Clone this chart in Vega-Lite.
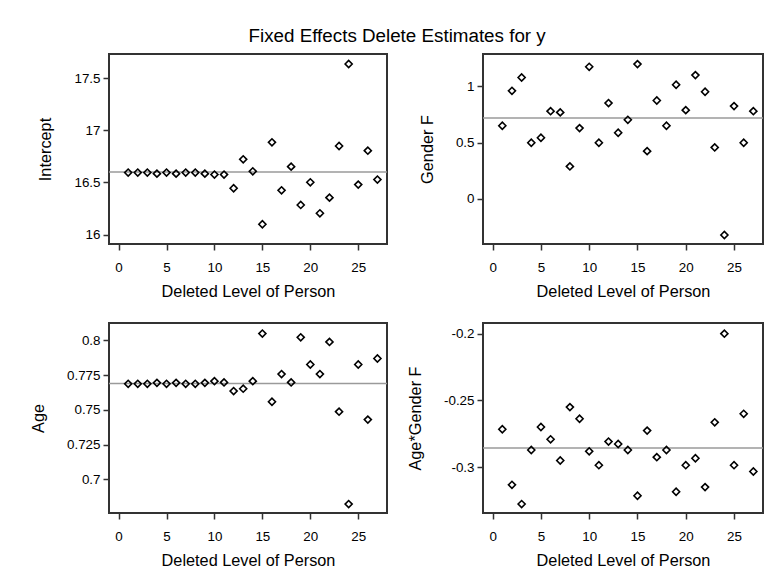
{
  "$schema": "https://vega.github.io/schema/vega-lite/v6.json",
  "background": "white",
  "padding": {"left": 29, "top": 27, "right": 0, "bottom": 0},
  "title": {"text": "Fixed Effects Delete Estimates for y", "font": "Liberation Sans", "fontSize": 18.8, "fontWeight": "normal", "color": "black", "anchor": "middle", "offset": 7},
  "datasets": {
    "est": [
      {"person": 1, "param": "Intercept", "value": 16.594}, {"person": 2, "param": "Intercept", "value": 16.594}, {"person": 3, "param": "Intercept", "value": 16.594},
      {"person": 4, "param": "Intercept", "value": 16.584}, {"person": 5, "param": "Intercept", "value": 16.594}, {"person": 6, "param": "Intercept", "value": 16.584},
      {"person": 7, "param": "Intercept", "value": 16.594}, {"person": 8, "param": "Intercept", "value": 16.594}, {"person": 9, "param": "Intercept", "value": 16.584},
      {"person": 10, "param": "Intercept", "value": 16.575}, {"person": 11, "param": "Intercept", "value": 16.575}, {"person": 12, "param": "Intercept", "value": 16.444},
      {"person": 13, "param": "Intercept", "value": 16.721}, {"person": 14, "param": "Intercept", "value": 16.606}, {"person": 15, "param": "Intercept", "value": 16.099},
      {"person": 16, "param": "Intercept", "value": 16.884}, {"person": 17, "param": "Intercept", "value": 16.424}, {"person": 18, "param": "Intercept", "value": 16.651},
      {"person": 19, "param": "Intercept", "value": 16.284}, {"person": 20, "param": "Intercept", "value": 16.501}, {"person": 21, "param": "Intercept", "value": 16.204},
      {"person": 22, "param": "Intercept", "value": 16.354}, {"person": 23, "param": "Intercept", "value": 16.849}, {"person": 24, "param": "Intercept", "value": 17.634},
      {"person": 25, "param": "Intercept", "value": 16.479}, {"person": 26, "param": "Intercept", "value": 16.804}, {"person": 27, "param": "Intercept", "value": 16.527},

      {"person": 1, "param": "Gender F", "value": 0.650}, {"person": 2, "param": "Gender F", "value": 0.961}, {"person": 3, "param": "Gender F", "value": 1.080},
      {"person": 4, "param": "Gender F", "value": 0.499}, {"person": 5, "param": "Gender F", "value": 0.543}, {"person": 6, "param": "Gender F", "value": 0.780},
      {"person": 7, "param": "Gender F", "value": 0.769}, {"person": 8, "param": "Gender F", "value": 0.288}, {"person": 9, "param": "Gender F", "value": 0.629},
      {"person": 10, "param": "Gender F", "value": 1.175}, {"person": 11, "param": "Gender F", "value": 0.499}, {"person": 12, "param": "Gender F", "value": 0.852},
      {"person": 13, "param": "Gender F", "value": 0.588}, {"person": 14, "param": "Gender F", "value": 0.703}, {"person": 15, "param": "Gender F", "value": 1.199},
      {"person": 16, "param": "Gender F", "value": 0.424}, {"person": 17, "param": "Gender F", "value": 0.875}, {"person": 18, "param": "Gender F", "value": 0.650},
      {"person": 19, "param": "Gender F", "value": 1.015}, {"person": 20, "param": "Gender F", "value": 0.789}, {"person": 21, "param": "Gender F", "value": 1.101},
      {"person": 22, "param": "Gender F", "value": 0.953}, {"person": 23, "param": "Gender F", "value": 0.457}, {"person": 24, "param": "Gender F", "value": -0.323},
      {"person": 25, "param": "Gender F", "value": 0.825}, {"person": 26, "param": "Gender F", "value": 0.499}, {"person": 27, "param": "Gender F", "value": 0.780},

      {"person": 1, "param": "Age", "value": 0.7687}, {"person": 2, "param": "Age", "value": 0.7687}, {"person": 3, "param": "Age", "value": 0.7687},
      {"person": 4, "param": "Age", "value": 0.7694}, {"person": 5, "param": "Age", "value": 0.7687}, {"person": 6, "param": "Age", "value": 0.7694},
      {"person": 7, "param": "Age", "value": 0.7687}, {"person": 8, "param": "Age", "value": 0.7687}, {"person": 9, "param": "Age", "value": 0.7694},
      {"person": 10, "param": "Age", "value": 0.7706}, {"person": 11, "param": "Age", "value": 0.7697}, {"person": 12, "param": "Age", "value": 0.7635},
      {"person": 13, "param": "Age", "value": 0.7652}, {"person": 14, "param": "Age", "value": 0.7706}, {"person": 15, "param": "Age", "value": 0.8048},
      {"person": 16, "param": "Age", "value": 0.7558}, {"person": 17, "param": "Age", "value": 0.7757}, {"person": 18, "param": "Age", "value": 0.7697},
      {"person": 19, "param": "Age", "value": 0.8021}, {"person": 20, "param": "Age", "value": 0.7826}, {"person": 21, "param": "Age", "value": 0.7757},
      {"person": 22, "param": "Age", "value": 0.7988}, {"person": 23, "param": "Age", "value": 0.7487}, {"person": 24, "param": "Age", "value": 0.6823},
      {"person": 25, "param": "Age", "value": 0.7826}, {"person": 26, "param": "Age", "value": 0.7430}, {"person": 27, "param": "Age", "value": 0.7869},

      {"person": 1, "param": "Age*Gender F", "value": -0.2716}, {"person": 2, "param": "Age*Gender F", "value": -0.3132}, {"person": 3, "param": "Age*Gender F", "value": -0.3276},
      {"person": 4, "param": "Age*Gender F", "value": -0.2871}, {"person": 5, "param": "Age*Gender F", "value": -0.2699}, {"person": 6, "param": "Age*Gender F", "value": -0.2791},
      {"person": 7, "param": "Age*Gender F", "value": -0.2950}, {"person": 8, "param": "Age*Gender F", "value": -0.2550}, {"person": 9, "param": "Age*Gender F", "value": -0.2637},
      {"person": 10, "param": "Age*Gender F", "value": -0.2881}, {"person": 11, "param": "Age*Gender F", "value": -0.2985}, {"person": 12, "param": "Age*Gender F", "value": -0.2808},
      {"person": 13, "param": "Age*Gender F", "value": -0.2826}, {"person": 14, "param": "Age*Gender F", "value": -0.2871}, {"person": 15, "param": "Age*Gender F", "value": -0.3214},
      {"person": 16, "param": "Age*Gender F", "value": -0.2726}, {"person": 17, "param": "Age*Gender F", "value": -0.2925}, {"person": 18, "param": "Age*Gender F", "value": -0.2871},
      {"person": 19, "param": "Age*Gender F", "value": -0.3184}, {"person": 20, "param": "Age*Gender F", "value": -0.2985}, {"person": 21, "param": "Age*Gender F", "value": -0.2933},
      {"person": 22, "param": "Age*Gender F", "value": -0.3149}, {"person": 23, "param": "Age*Gender F", "value": -0.2664}, {"person": 24, "param": "Age*Gender F", "value": -0.2000},
      {"person": 25, "param": "Age*Gender F", "value": -0.2985}, {"person": 26, "param": "Age*Gender F", "value": -0.2600}, {"person": 27, "param": "Age*Gender F", "value": -0.3032}
    ],
    "ref": [
      {"param": "Intercept", "value": 16.600},
      {"param": "Gender F", "value": 0.718},
      {"param": "Age", "value": 0.769},
      {"param": "Age*Gender F", "value": -0.2856}
    ]
  },
  "columns": 2,
  "spacing": {"row": 79, "column": 96},
  "bounds": "flush",
  "concat": [
    {
      "width": 278, "height": 190,
      "encoding": {"y": {"field": "value", "type": "quantitative", "title": "Intercept", "scale": {"domain": [15.91, 17.73], "nice": false, "zero": false}, "axis": {"values": [16, 16.5, 17, 17.5], "labelExpr": "'' + datum.value"}}},
      "layer": [
        {"data": {"name": "ref"}, "transform": [{"filter": "datum.param === 'Intercept'"}], "mark": {"type": "rule", "color": "#9a9a9a", "strokeWidth": 1.5}, "encoding": {}},
        {"data": {"name": "est"}, "transform": [{"filter": "datum.param === 'Intercept'"}], "mark": {"type": "point", "shape": "diamond", "filled": false, "size": 50, "color": "black", "strokeWidth": 1.6, "opacity": 1},
         "encoding": {"x": {"field": "person", "type": "quantitative", "title": "Deleted Level of Person", "scale": {"domain": [-1, 28], "nice": false, "zero": false}, "axis": {"values": [0, 5, 10, 15, 20, 25]}}}}
      ]
    },
    {
      "width": 280, "height": 190,
      "encoding": {"y": {"field": "value", "type": "quantitative", "title": "Gender F", "scale": {"domain": [-0.403, 1.289], "nice": false, "zero": false}, "axis": {"values": [0, 0.5, 1], "labelExpr": "'' + datum.value"}}},
      "layer": [
        {"data": {"name": "ref"}, "transform": [{"filter": "datum.param === 'Gender F'"}], "mark": {"type": "rule", "color": "#9a9a9a", "strokeWidth": 1.5}, "encoding": {}},
        {"data": {"name": "est"}, "transform": [{"filter": "datum.param === 'Gender F'"}], "mark": {"type": "point", "shape": "diamond", "filled": false, "size": 50, "color": "black", "strokeWidth": 1.6, "opacity": 1},
         "encoding": {"x": {"field": "person", "type": "quantitative", "title": "Deleted Level of Person", "scale": {"domain": [-1, 28], "nice": false, "zero": false}, "axis": {"values": [0, 5, 10, 15, 20, 25]}}}}
      ]
    },
    {
      "width": 278, "height": 190,
      "encoding": {"y": {"field": "value", "type": "quantitative", "title": "Age", "scale": {"domain": [0.6759, 0.8124], "nice": false, "zero": false}, "axis": {"values": [0.7, 0.725, 0.75, 0.775, 0.8], "labelExpr": "'' + datum.value"}}},
      "layer": [
        {"data": {"name": "ref"}, "transform": [{"filter": "datum.param === 'Age'"}], "mark": {"type": "rule", "color": "#9a9a9a", "strokeWidth": 1.5}, "encoding": {}},
        {"data": {"name": "est"}, "transform": [{"filter": "datum.param === 'Age'"}], "mark": {"type": "point", "shape": "diamond", "filled": false, "size": 50, "color": "black", "strokeWidth": 1.6, "opacity": 1},
         "encoding": {"x": {"field": "person", "type": "quantitative", "title": "Deleted Level of Person", "scale": {"domain": [-1, 28], "nice": false, "zero": false}, "axis": {"values": [0, 5, 10, 15, 20, 25]}}}}
      ]
    },
    {
      "width": 280, "height": 190,
      "encoding": {"y": {"field": "value", "type": "quantitative", "title": "Age*Gender F", "scale": {"domain": [-0.3343, -0.192], "nice": false, "zero": false}, "axis": {"values": [-0.3, -0.25, -0.2], "labelExpr": "'' + datum.value"}}},
      "layer": [
        {"data": {"name": "ref"}, "transform": [{"filter": "datum.param === 'Age*Gender F'"}], "mark": {"type": "rule", "color": "#9a9a9a", "strokeWidth": 1.5}, "encoding": {}},
        {"data": {"name": "est"}, "transform": [{"filter": "datum.param === 'Age*Gender F'"}], "mark": {"type": "point", "shape": "diamond", "filled": false, "size": 50, "color": "black", "strokeWidth": 1.6, "opacity": 1},
         "encoding": {"x": {"field": "person", "type": "quantitative", "title": "Deleted Level of Person", "scale": {"domain": [-1, 28], "nice": false, "zero": false}, "axis": {"values": [0, 5, 10, 15, 20, 25]}}}}
      ]
    }
  ],
  "config": {
    "font": "Liberation Sans",
    "view": {"stroke": "#333333", "strokeWidth": 2},
    "axis": {"domain": false, "grid": false, "ticks": true, "tickColor": "#333333", "tickWidth": 1.5, "tickSize": 6,
      "labelFont": "Liberation Sans", "labelFontSize": 13.4, "labelColor": "black", "labelFlush": false, "labelOverlap": false, "labelBound": false,
      "titleFont": "Liberation Sans", "titleFontSize": 16.3, "titleFontWeight": "normal", "titleColor": "black"},
    "axisX": {"labelPadding": 10, "titlePadding": 10},
    "axisY": {"labelPadding": 3, "titlePadding": 20}
  }
}
